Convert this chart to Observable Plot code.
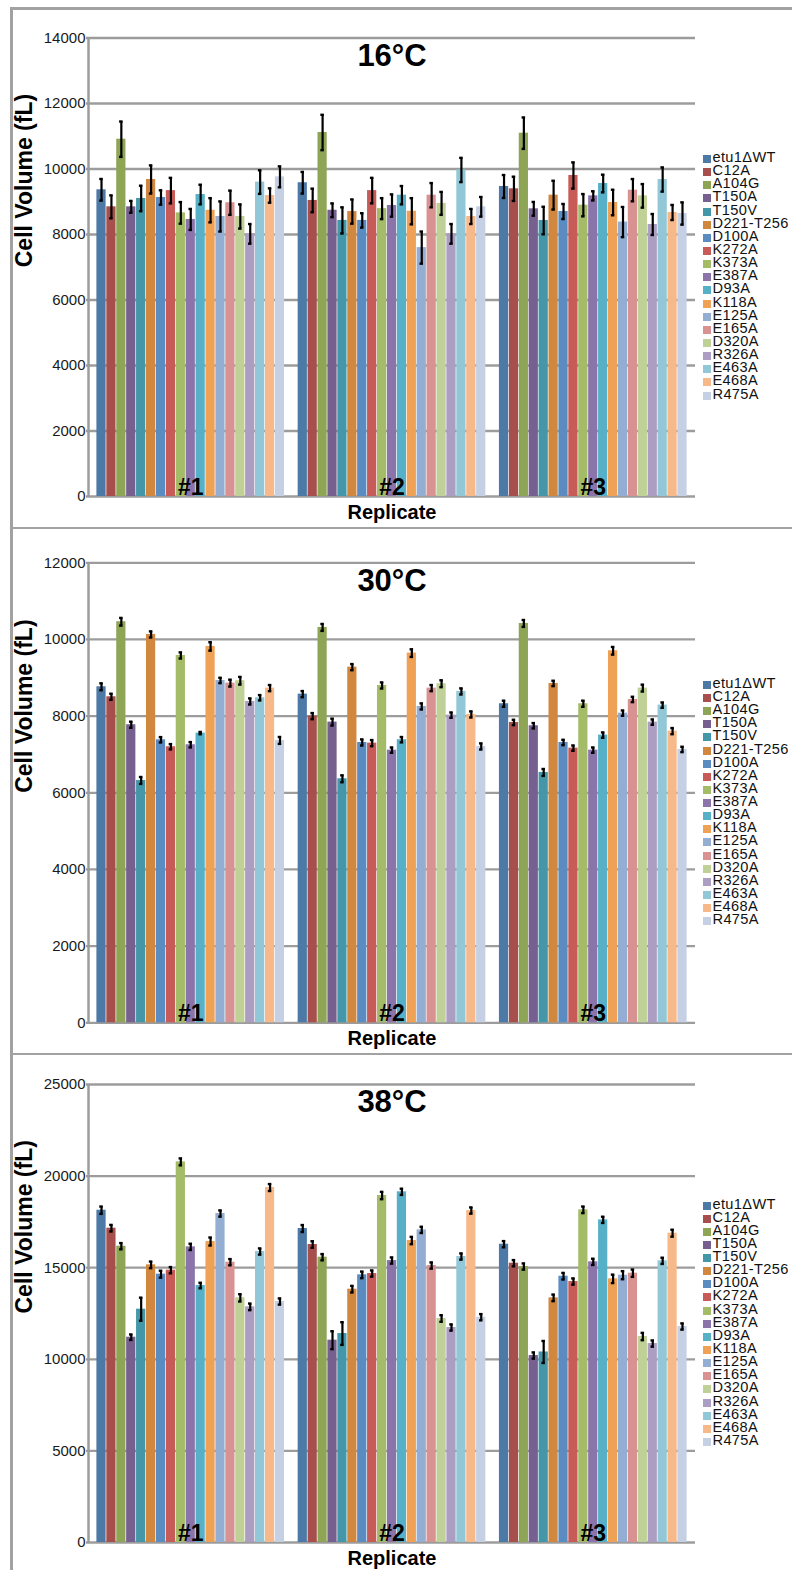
<!DOCTYPE html>
<html>
<head>
<meta charset="utf-8">
<script src="https://cdn.jsdelivr.net/npm/d3@7"></script>
<script src="https://cdn.jsdelivr.net/npm/@observablehq/plot@0.6"></script>
<style>
  html, body { margin: 0; padding: 0; background: #fff; }
  #root { position: relative; width: 792px; height: 1570px; overflow: hidden; font-family: "Liberation Sans", Arial, sans-serif; }
  .panel { position: absolute; left: 0; }
  .hline { position: absolute; left: 10px; right: -10px; height: 2.6px; background: #a2a2a2; }
  .vline { position: absolute; left: 10px; width: 2.6px; top: 7px; bottom: -10px; background: #a2a2a2; }
  .legend { position: absolute; left: 702px; font-size: 14.6px; letter-spacing: 0.35px; color: #111; }
  .legend .item { position: relative; height: 13.15px; line-height: 13.15px; white-space: nowrap; padding-left: 10.5px; }
  .legend .sw { position: absolute; left: 0.7px; top: 4px; width: 8.3px; height: 8px; }
</style>
</head>
<body>
<div id="root"></div>
<script>
// ---------- data ----------
const series = ["etu1ΔWT","C12A","A104G","T150A","T150V","D221-T256","D100A","K272A","K373A","E387A","D93A","K118A","E125A","E165A","D320A","R326A","E463A","E468A","R475A"];
const colors = ["#4d79a7","#a64f4c","#8ea556","#76608f","#4397a8","#d2873f","#5a8cc2","#c65b58","#a4bb67","#8a74a9","#56b1c8","#efa255","#93aed2","#d89291","#bfd196","#ac9dc3","#91c7d7","#f8b98a","#c5d0e5"];
const replicates = ["#1","#2","#3"];
const titles = ["16°C","30°C","38°C"];
const yLabel = "Cell Volume (fL)";
const xLabel = "Replicate";

const ticks16 = [0,2000,4000,6000,8000,10000,12000,14000];
const ticks30 = [0,2000,4000,6000,8000,10000,12000];
const ticks38 = [0,5000,10000,15000,20000,25000];

const vol16 = [
  [9365,8845,10910,8845,9100,9680,9130,9340,8660,8460,9220,8740,8550,8970,8550,8020,9600,9190,9760],
  [9580,9040,11115,8740,8430,8700,8430,9340,8790,8885,9200,8710,7600,9200,8950,8020,9970,8550,8845],
  [9466,9395,11094,8784,8427,9201,8702,9802,8895,9180,9557,8977,8380,9353,9180,8305,9679,8672,8641]
];
const err16 = [
  [330,350,540,180,390,430,220,390,330,320,300,370,460,370,370,300,360,220,320],
  [330,360,540,210,400,370,220,390,320,340,280,400,490,370,350,300,370,230,300],
  [350,370,480,210,420,440,230,400,340,140,270,390,460,340,360,320,370,230,340]
];
const vol30 = [
  [8766,8505,10462,7775,6322,10131,7383,7201,9583,7253,7557,9818,8931,8861,8923,8383,8479,8731,7366],
  [8574,8000,10314,7844,6366,9278,7313,7296,8800,7113,7385,9644,8253,8731,8845,8026,8644,8044,7209],
  [8323,7835,10418,7749,6531,8853,7313,7165,8323,7113,7505,9705,8078,8435,8731,7844,8287,7609,7131]
];
const err30 = [
  [90,80,100,80,90,80,70,70,80,70,30,110,70,90,100,80,70,80,90],
  [80,80,90,90,90,80,80,80,80,70,70,100,80,80,90,70,80,80,80],
  [80,70,90,70,90,70,70,70,80,70,70,100,70,70,90,70,70,80,70]
];
const vol38 = [
  [18138,17156,16173,11206,12735,15155,14646,14864,20777,16137,14027,16429,17957,15300,13354,12863,15883,19376,13154],
  [17138,16265,15573,11043,11407,13827,14610,14682,18940,15392,19142,16483,17065,15119,12226,11735,15610,18120,12297],
  [16282,15245,15064,10206,10400,13354,14535,14245,18159,15320,17612,14391,14591,14700,11243,10860,15375,16883,11790]
];
const err38 = [
  [200,180,170,150,630,180,190,170,190,170,150,220,170,170,200,180,170,190,170],
  [190,180,170,490,620,180,180,170,200,170,170,200,170,170,180,170,170,170,170],
  [170,170,170,170,600,180,180,170,180,170,170,230,220,200,200,170,170,190,170]
];

// ---------- layout ----------
const panels = [
  {title: titles[0], vol: vol16, err: err16, ticks: ticks16, top: 0,    height: 528, mt: 37.5, mb: 32,   legendTop: 151},
  {title: titles[1], vol: vol30, err: err30, ticks: ticks30, top: 528,  height: 526, mt: 34.3, mb: 31.7, legendTop: 676.8},
  {title: titles[2], vol: vol38, err: err38, ticks: ticks38, top: 1054, height: 516, mt: 30,   mb: 28,   legendTop: 1197.5}
];

const root = document.getElementById("root");
const grid = "#9c9c9c";
const font = "'Liberation Sans', Arial, sans-serif";

for (const p of panels) {
  const ymax = p.ticks[p.ticks.length - 1];
  const rows = replicates.flatMap((rep, i) => series.map((s, j) => ({
    rep, series: s, value: p.vol[i][j], lo: p.vol[i][j] - p.err[i][j], hi: p.vol[i][j] + p.err[i][j]
  })));
  const style = {background: "transparent", fontFamily: font, color: "#1a1a1a", overflow: "visible"};
  const dims = {width: 792, height: p.height, marginLeft: 88, marginRight: 97, marginTop: p.mt, marginBottom: p.mb, style};

  // background: grid, y axis, titles
  const bg = Plot.plot({
    ...dims,
    x: {domain: [0, 1], axis: null},
    y: {domain: [0, ymax], axis: null},
    marks: [
      Plot.ruleY(p.ticks, {y: d => d, stroke: grid, strokeWidth: 2.3, insetLeft: -2}),
      Plot.ruleX([0], {y1: 0, y2: ymax, stroke: grid, strokeWidth: 2.5}),
      Plot.axisY(p.ticks, {ticks: p.ticks, tickSize: 0, tickPadding: 3, fontSize: 15, tickFormat: d3.format("d"), label: null, fill: "#1a1a1a"}),
      Plot.text([p.title], {text: d => d, frameAnchor: "top", dy: 18, lineAnchor: "middle", fontSize: 31, fontWeight: "bold", fill: "#000"}),
      Plot.text([xLabel], {text: d => d, frameAnchor: "bottom", dy: 22, lineAnchor: "bottom", fontSize: 20, fontWeight: "bold", fill: "#000"}),
      Plot.text([yLabel], {text: d => d, frameAnchor: "left", dx: -64, rotate: -90, lineAnchor: "middle", fontSize: 23, fontWeight: "bold", fill: "#000"})
    ]
  });

  // foreground: grouped bars with error bars
  const fg = Plot.plot({
    ...dims,
    fx: {domain: replicates, paddingInner: 0.064, paddingOuter: 0.04, round: false, axis: null, label: null},
    x: {domain: series, padding: 0, round: false, axis: null},
    y: {domain: [0, ymax], axis: null},
    color: {domain: series, range: colors},
    marks: [
      Plot.barY(rows, {fx: "rep", x: "series", y: "value", fill: "series", insetLeft: 0.35, insetRight: 0.35}),
      Plot.ruleX(rows, {fx: "rep", x: "series", y1: "lo", y2: "hi", stroke: "#000", strokeWidth: 2.2}),
      Plot.tickY(rows, {fx: "rep", x: "series", y: "hi", stroke: "#000", strokeWidth: 2.4, insetLeft: 3.2, insetRight: 3.2}),
      Plot.tickY(rows, {fx: "rep", x: "series", y: "lo", stroke: "#000", strokeWidth: 2.4, insetLeft: 3.2, insetRight: 3.2}),
      Plot.text(replicates, {fx: d => d, text: d => d, frameAnchor: "bottom", dy: -1.5, lineAnchor: "bottom", fontSize: 23, fontWeight: "bold", fill: "#000"})
    ]
  });

  for (const svg of [bg, fg]) {
    const wrap = document.createElement("div");
    wrap.className = "panel";
    wrap.style.top = p.top + "px";
    wrap.appendChild(svg);
    root.appendChild(wrap);
  }

  // legend
  const lg = document.createElement("div");
  lg.className = "legend";
  lg.style.top = p.legendTop + "px";
  series.forEach((s, i) => {
    const it = document.createElement("div");
    it.className = "item";
    const sw = document.createElement("span");
    sw.className = "sw";
    sw.style.background = colors[i];
    it.appendChild(sw);
    it.appendChild(document.createTextNode(s));
    lg.appendChild(it);
  });
  root.appendChild(lg);
}

// panel frame lines
for (const y of [7, 526.5, 1052.5]) {
  const h = document.createElement("div");
  h.className = "hline";
  h.style.top = y + "px";
  root.appendChild(h);
}
const v = document.createElement("div");
v.className = "vline";
root.appendChild(v);
</script>
</body>
</html>
